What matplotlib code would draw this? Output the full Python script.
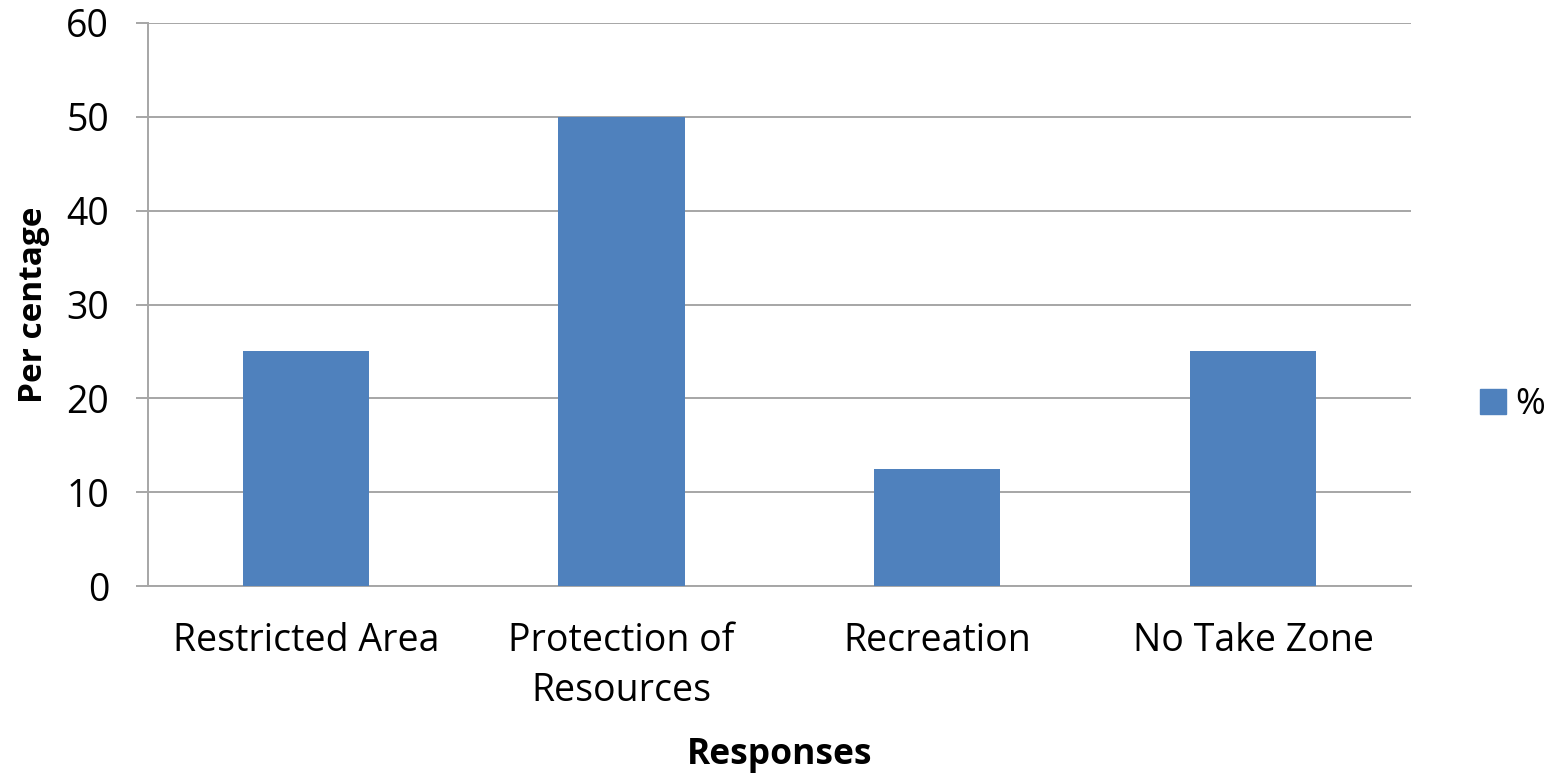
import matplotlib.pyplot as plt
from matplotlib.patches import Patch

# data
categories = ['Restricted Area', 'Protection of\nResources', 'Recreation', 'No Take Zone']
values = [25, 50, 12.5, 25]
y_ticks = [0, 10, 20, 30, 40, 50, 60]

bar_color = '#4F81BD'
grid_color = '#A6A6A6'

plt.rcParams['font.family'] = ['Open Sans', 'DejaVu Sans']

fig = plt.figure(figsize=(15.51, 7.76), dpi=100)
ax = fig.add_axes([0.0954, 0.2448, 0.9097 - 0.0954, 0.9704 - 0.2448])

x = range(len(categories))
ax.bar(x, values, width=0.4, color=bar_color, zorder=3)

ax.set_xlim(-0.5, len(categories) - 0.5)
ax.set_ylim(0, 60)
ax.set_yticks(y_ticks)
ax.yaxis.grid(True, color=grid_color, linewidth=1.4, zorder=0)

for s in ['top', 'right']:
    ax.spines[s].set_visible(False)
for s in ['left', 'bottom']:
    ax.spines[s].set_color(grid_color)
    ax.spines[s].set_linewidth(1.4)

ax.tick_params(axis='y', length=9, width=1.4, color=grid_color, labelsize=27, pad=19)
ax.tick_params(axis='x', length=0, labelsize=27, pad=26)
ax.set_xticks(list(x))
ax.set_xticklabels(categories, linespacing=1.4)

ax.set_ylabel('Per centage', fontsize=24, fontweight='bold', labelpad=12)
# x axis title placed in figure coords so it sits where the reference has it
fig.text(0.5027, 1 - 755 / 776, 'Responses', fontsize=25.5, fontweight='bold',
         ha='center', va='center')

fig.legend(handles=[Patch(color=bar_color, label='%')], loc='center left',
           bbox_to_anchor=(1480 / 1551, 1 - 405 / 776), frameon=False, fontsize=26,
           handlelength=0.72, handleheight=0.72, handletextpad=0.25,
           borderpad=0, borderaxespad=0)

fig.savefig('out.png', dpi=100)
